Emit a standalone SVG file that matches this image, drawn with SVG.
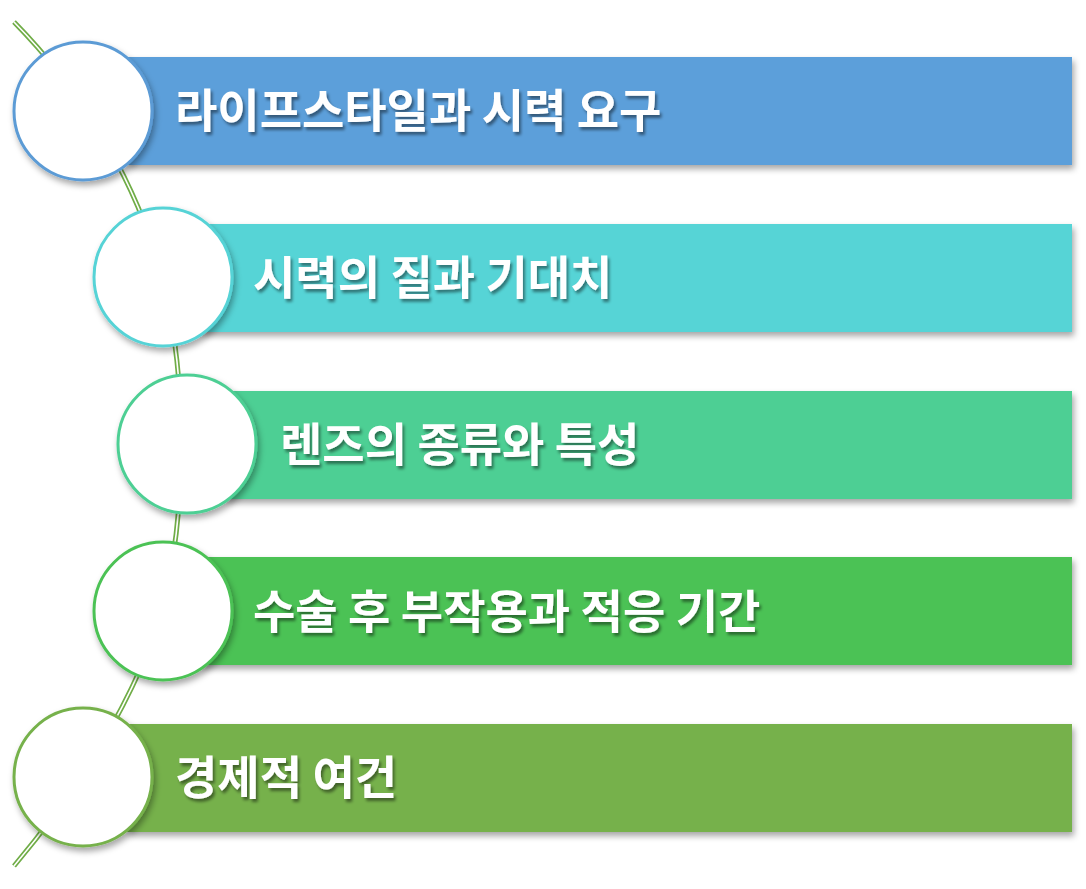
<svg xmlns="http://www.w3.org/2000/svg" width="1086" height="889" viewBox="0 0 1086 889">
<defs>
<filter id="sh" x="-10%" y="-10%" width="130%" height="140%"><feDropShadow dx="2" dy="4" stdDeviation="3" flood-color="#000" flood-opacity="0.35"/></filter>
<filter id="ts" x="-5%" y="-20%" width="110%" height="150%"><feDropShadow dx="2" dy="3" stdDeviation="1.5" flood-color="#000" flood-opacity="0.45"/></filter>
<style>
.t{font-family:"Noto Sans CJK KR","Noto Sans",sans-serif;font-weight:bold;font-size:46px;fill:#fff;filter:url(#ts)}
.c{fill:#fff;stroke-width:3;filter:url(#sh)}
.b{filter:url(#sh)}
</style>
</defs>
<g id="connectors">
<path d="M14,22 Q120,130 163,277 Q200,444 163,611 Q120,740 14,866" fill="none" stroke="#70AD47" stroke-width="5"/>
<path d="M14,22 Q120,130 163,277 Q200,444 163,611 Q120,740 14,866" fill="none" stroke="#fff" stroke-width="1.6"/>
</g>
<g id="n1"><rect class="b" x="127" y="57" width="945" height="108" fill="#5B9FDA"/><circle class="c" cx="83" cy="111" r="69" stroke="#5B9BD5"/><text class="t" x="175" y="127">라이프스타일과 시력 요구</text></g>
<g id="n2"><rect class="b" x="200" y="224" width="872" height="108" fill="#57D4D6"/><circle class="c" cx="163" cy="277" r="69" stroke="#57D3D6"/><text class="t" x="253" y="294">시력의 질과 기대치</text></g>
<g id="n3"><rect class="b" x="225" y="391" width="847" height="108" fill="#4ECF94"/><circle class="c" cx="187" cy="444" r="69" stroke="#4ECF94"/><text class="t" x="280" y="461">렌즈의 종류와 특성</text></g>
<g id="n4"><rect class="b" x="200" y="557" width="872" height="108" fill="#4CC254"/><circle class="c" cx="163" cy="611" r="69" stroke="#4CC254"/><text class="t" x="253" y="628">수술 후 부작용과 적응 기간</text></g>
<g id="n5"><rect class="b" x="127" y="724" width="945" height="108" fill="#76B14B"/><circle class="c" cx="83" cy="777" r="69" stroke="#76B14B"/><text class="t" x="175" y="794">경제적 여건</text></g>
</svg>
